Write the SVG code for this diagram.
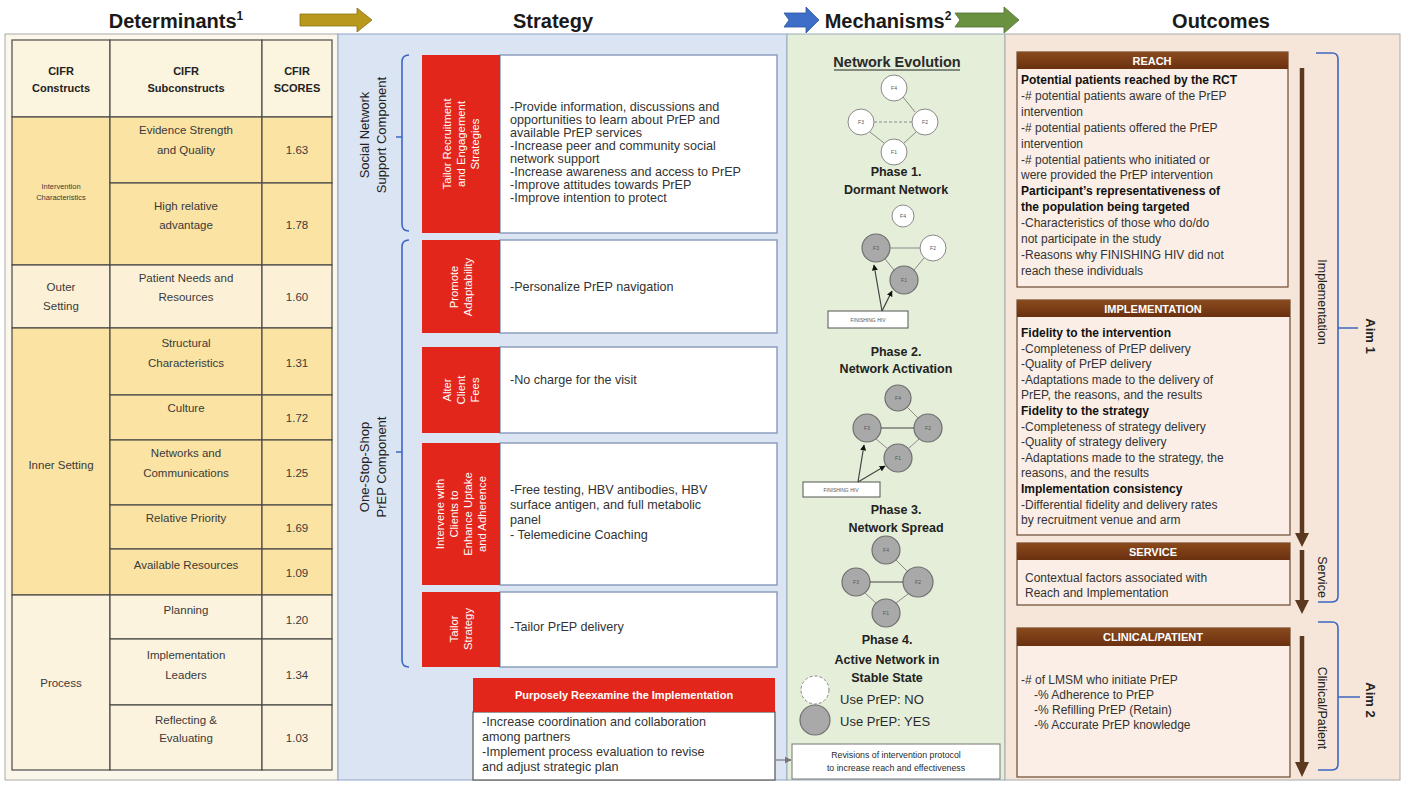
<svg xmlns="http://www.w3.org/2000/svg" width="1404" height="785" viewBox="0 0 1404 785">
<style>
text{font-family:"Liberation Sans",Arial,sans-serif;fill:#2a2a2a}
.hd{font-size:20px;font-weight:bold;text-anchor:middle;fill:#1a1a1a}
.th{font-size:11px;font-weight:bold;text-anchor:middle;fill:#222}
.c{font-size:11.5px;text-anchor:middle;fill:#3a3a3a}
.cs{font-size:7.5px;text-anchor:middle;fill:#3a3a3a}
.st{font-size:12.6px;fill:#333}
.rl{font-size:11.3px;fill:#fff;text-anchor:middle}
.vl{font-size:13px;text-anchor:middle;fill:#222}
.mb{font-size:12.5px;font-weight:bold;text-anchor:middle;fill:#222}
.nl{font-size:5px;text-anchor:middle;fill:#555}
.oc{font-size:12px;fill:#333}
.ob{font-size:12px;font-weight:bold;fill:#111}
.bh{font-size:11px;font-weight:bold;fill:#fff;text-anchor:middle}
.ov{font-size:12.5px;text-anchor:middle;fill:#222}
.aim{font-size:13px;font-weight:bold;text-anchor:middle;fill:#222}
.red{fill:#e3261c}
.tb{fill:#fff;stroke:#8d9ebf;stroke-width:1.5}
.cell{stroke:#4a4a4a;stroke-width:1.2}
.gold{fill:#fae3a3}
.lite{fill:#fcf1d6}
.nw{fill:#fff;stroke:#8a8a8a;stroke-width:1}
.ng{fill:#a9a9a9;stroke:#6f6f6f;stroke-width:1.2}
.ed{stroke:#8a8a8a;stroke-width:1;fill:none}
.edk{stroke:#444;stroke-width:1.2;fill:none}
.brace{fill:none;stroke:#3d67c4;stroke-width:1.6}
.brn{stroke:#5b3920;stroke-width:4.5}
.obox{fill:#faeee6;stroke:#6b4a30;stroke-width:1.2}
</style>
<defs>
<marker id="ah" viewBox="0 0 10 10" refX="9" refY="5" markerWidth="5" markerHeight="5" orient="auto"><path d="M0,0L10,5L0,10z" fill="#111"/></marker>
<marker id="ag" viewBox="0 0 10 10" refX="9" refY="5" markerWidth="6" markerHeight="6" orient="auto"><path d="M0,0L10,5L0,10z" fill="#777"/></marker>
<linearGradient id="bg1" x1="0" y1="0" x2="0" y2="1"><stop offset="0" stop-color="#8a4a1c"/><stop offset="1" stop-color="#6a3010"/></linearGradient>
</defs>
<rect width="1404" height="785" fill="#ffffff"/>

<g id="panels">
<rect x="5" y="34" width="333" height="746" fill="#fbf7ea" stroke="#a9a9a9"/>
<rect x="338" y="34" width="449" height="746" fill="#dbe4f2" stroke="#8fa3c8"/>
<rect x="787" y="34" width="218" height="746" fill="#e4eed9" stroke="#9aaab8"/>
<rect x="1005" y="34" width="395" height="746" fill="#f6e6da" stroke="#a8a8a8"/>
</g>

<g id="headers">
<text class="hd" x="176" y="28">Determinants<tspan font-size="12" dy="-8">1</tspan></text>
<text class="hd" x="553" y="28">Strategy</text>
<text class="hd" x="888" y="28">Mechanisms<tspan font-size="12" dy="-8">2</tspan></text>
<text class="hd" x="1221" y="28">Outcomes</text>
</g>

<g id="determinants">
<rect class="cell" x="12" y="40" width="98" height="77" fill="#fbf4de"/>
<rect class="cell" x="110" y="40" width="152" height="77" fill="#fbf4de"/>
<rect class="cell" x="262" y="40" width="70" height="77" fill="#fbf4de"/>
<text class="th" x="61" y="75">CIFR</text><text class="th" x="61" y="92">Constructs</text>
<text class="th" x="186" y="75">CIFR</text><text class="th" x="186" y="92">Subconstructs</text>
<text class="th" x="297" y="75">CFIR</text><text class="th" x="297" y="92">SCORES</text>

<rect class="cell gold" x="12" y="117" width="98" height="148"/>
<rect class="cell gold" x="110" y="117" width="152" height="66"/><rect class="cell gold" x="262" y="117" width="70" height="66"/>
<rect class="cell gold" x="110" y="183" width="152" height="82"/><rect class="cell gold" x="262" y="183" width="70" height="82"/>
<text class="cs" x="61" y="189">Intervention</text><text class="cs" x="61" y="200">Characteristics</text>
<text class="c" x="186" y="134">Evidence Strength</text><text class="c" x="186" y="154">and Quality</text><text class="c" x="297" y="154">1.63</text>
<text class="c" x="186" y="210">High relative</text><text class="c" x="186" y="229">advantage</text><text class="c" x="297" y="229">1.78</text>

<rect class="cell lite" x="12" y="265" width="98" height="63"/>
<rect class="cell lite" x="110" y="265" width="152" height="63"/><rect class="cell lite" x="262" y="265" width="70" height="63"/>
<text class="c" x="61" y="291">Outer</text><text class="c" x="61" y="310">Setting</text>
<text class="c" x="186" y="282">Patient Needs and</text><text class="c" x="186" y="301">Resources</text><text class="c" x="297" y="301">1.60</text>

<rect class="cell gold" x="12" y="328" width="98" height="267"/>
<rect class="cell gold" x="110" y="328" width="152" height="67"/><rect class="cell gold" x="262" y="328" width="70" height="67"/>
<rect class="cell gold" x="110" y="395" width="152" height="45"/><rect class="cell gold" x="262" y="395" width="70" height="45"/>
<rect class="cell gold" x="110" y="440" width="152" height="65"/><rect class="cell gold" x="262" y="440" width="70" height="65"/>
<rect class="cell gold" x="110" y="505" width="152" height="44"/><rect class="cell gold" x="262" y="505" width="70" height="44"/>
<rect class="cell gold" x="110" y="549" width="152" height="46"/><rect class="cell gold" x="262" y="549" width="70" height="46"/>
<text class="c" x="61" y="469">Inner Setting</text>
<text class="c" x="186" y="347">Structural</text><text class="c" x="186" y="367">Characteristics</text><text class="c" x="297" y="367">1.31</text>
<text class="c" x="186" y="412">Culture</text><text class="c" x="297" y="422">1.72</text>
<text class="c" x="186" y="457">Networks and</text><text class="c" x="186" y="477">Communications</text><text class="c" x="297" y="477">1.25</text>
<text class="c" x="186" y="522">Relative Priority</text><text class="c" x="297" y="532">1.69</text>
<text class="c" x="186" y="569">Available Resources</text><text class="c" x="297" y="577">1.09</text>

<rect class="cell" x="12" y="595" width="98" height="175" fill="#fcf3de"/>
<rect class="cell" x="110" y="595" width="152" height="44" fill="#fcf3de"/><rect class="cell" x="262" y="595" width="70" height="44" fill="#fcf3de"/>
<rect class="cell" x="110" y="639" width="152" height="66" fill="#fcf3de"/><rect class="cell" x="262" y="639" width="70" height="66" fill="#fcf3de"/>
<rect class="cell" x="110" y="705" width="152" height="65" fill="#fcf3de"/><rect class="cell" x="262" y="705" width="70" height="65" fill="#fcf3de"/>
<text class="c" x="61" y="687">Process</text>
<text class="c" x="186" y="614">Planning</text><text class="c" x="297" y="624">1.20</text>
<text class="c" x="186" y="659">Implementation</text><text class="c" x="186" y="679">Leaders</text><text class="c" x="297" y="679">1.34</text>
<text class="c" x="186" y="724">Reflecting &amp;</text><text class="c" x="186" y="742">Evaluating</text><text class="c" x="297" y="742">1.03</text>
</g>

<g id="strategy-labels">
<text class="vl" transform="translate(369,135) rotate(-90)"><tspan x="0" y="0">Social Network</tspan><tspan x="0" dy="17">Support Component</tspan></text>
<text class="vl" transform="translate(369,467) rotate(-90)"><tspan x="0" y="0">One-Stop-Shop</tspan><tspan x="0" dy="17">PrEP Component</tspan></text>
</g>

<g id="s1">
<rect class="tb" x="500" y="55" width="277" height="178"/>
<rect class="red" x="422" y="55" width="78" height="178"/>
<text class="rl" transform="translate(461,144) rotate(-90)"><tspan x="0" y="-10">Tailor Recruitment</tspan><tspan x="0" dy="14">and Engagement</tspan><tspan x="0" dy="14">Strategies</tspan></text>
<text class="st"><tspan x="510" y="111">-Provide information, discussions and</tspan><tspan x="510" dy="13">opportunities to learn about PrEP and</tspan><tspan x="510" dy="13">available PrEP services</tspan><tspan x="510" dy="13">-Increase peer and community social</tspan><tspan x="510" dy="13">network support</tspan><tspan x="510" dy="13">-Increase awareness and access to PrEP</tspan><tspan x="510" dy="13">-Improve attitudes towards PrEP</tspan><tspan x="510" dy="13">-Improve intention to protect</tspan></text>
</g>
<g id="s2">
<rect class="tb" x="500" y="240" width="277" height="93"/>
<rect class="red" x="422" y="240" width="78" height="93"/>
<text class="rl" transform="translate(461,287) rotate(-90)"><tspan x="0" y="-3">Promote</tspan><tspan x="0" dy="14">Adaptability</tspan></text>
<text class="st" x="510" y="291">-Personalize PrEP navigation</text>
</g>
<g id="s3">
<rect class="tb" x="500" y="347" width="277" height="86"/>
<rect class="red" x="422" y="347" width="78" height="86"/>
<text class="rl" transform="translate(461,390) rotate(-90)"><tspan x="0" y="-10">Alter</tspan><tspan x="0" dy="14">Client</tspan><tspan x="0" dy="14">Fees</tspan></text>
<text class="st" x="510" y="384">-No charge for the visit</text>
</g>
<g id="s4">
<rect class="tb" x="500" y="443" width="277" height="142"/>
<rect class="red" x="422" y="443" width="78" height="142"/>
<text class="rl" transform="translate(461,514) rotate(-90)"><tspan x="0" y="-17">Intervene with</tspan><tspan x="0" dy="14">Clients to</tspan><tspan x="0" dy="14">Enhance Uptake</tspan><tspan x="0" dy="14">and Adherence</tspan></text>
<text class="st"><tspan x="510" y="494">-Free testing, HBV antibodies, HBV</tspan><tspan x="510" dy="15">surface antigen, and full metabolic</tspan><tspan x="510" dy="15">panel</tspan><tspan x="510" dy="15">- Telemedicine Coaching</tspan></text>
</g>
<g id="s5">
<rect class="tb" x="500" y="592" width="277" height="75"/>
<rect class="red" x="422" y="592" width="78" height="75"/>
<text class="rl" transform="translate(461,629) rotate(-90)"><tspan x="0" y="-3">Tailor</tspan><tspan x="0" dy="14">Strategy</tspan></text>
<text class="st" x="510" y="631">-Tailor PrEP delivery</text>
</g>
<g id="s6">
<rect x="473" y="712" width="302" height="68" fill="#fff" stroke="#555" stroke-width="1.2"/>
<rect class="red" x="473" y="678" width="302" height="34"/>
<text class="bh" x="624" y="699" font-size="11.5">Purposely Reexamine the Implementation</text>
<text class="st"><tspan x="482" y="726">-Increase coordination and collaboration</tspan><tspan x="482" dy="15">among partners</tspan><tspan x="482" dy="15">-Implement process evaluation to revise</tspan><tspan x="482" dy="15">and adjust strategic plan</tspan></text>
</g>

<g id="mech-title">
<text x="897" y="67" font-size="14.5" font-weight="bold" text-anchor="middle" fill="#222">Network Evolution</text>
<line x1="834" y1="70" x2="960" y2="70" stroke="#222" stroke-width="1.2"/>
</g>
<g id="phase1">
<circle class="nw" cx="894" cy="88" r="13"/><circle class="nw" cx="861" cy="122" r="13"/><circle class="nw" cx="925" cy="122" r="13"/><circle class="nw" cx="894" cy="152" r="13"/>
<text class="nl" x="894" y="90">F4</text><text class="nl" x="861" y="124">F3</text><text class="nl" x="925" y="124">F2</text><text class="nl" x="894" y="154">F1</text>
<text class="mb" x="896" y="176">Phase 1.</text><text class="mb" x="896" y="194">Dormant Network</text>
</g>
<g id="phase2">
<circle class="nw" cx="903" cy="216" r="11"/><circle class="ng" cx="876" cy="248" r="14"/><circle class="nw" cx="933" cy="248" r="13"/><circle class="ng" cx="904" cy="280" r="14" stroke="#444" stroke-width="1.6"/>
<text class="nl" x="903" y="218">F4</text><text class="nl" x="876" y="250">F3</text><text class="nl" x="933" y="250">F2</text><text class="nl" x="904" y="282">F1</text>
<rect x="828" y="311" width="80" height="17" fill="#fff" stroke="#555"/>
<text class="nl" x="868" y="321.5">FINISHING HIV</text>
<text class="mb" x="896" y="356">Phase 2.</text><text class="mb" x="896" y="373">Network Activation</text>
</g>
<g id="phase3">
<circle class="ng" cx="898" cy="398" r="13"/><circle class="ng" cx="867" cy="428" r="14"/><circle class="ng" cx="928" cy="428" r="14"/><circle class="ng" cx="898" cy="458" r="14"/>
<text class="nl" x="898" y="400">F4</text><text class="nl" x="867" y="430">F3</text><text class="nl" x="928" y="430">F2</text><text class="nl" x="898" y="460">F1</text>
<rect x="803" y="482" width="77" height="15" fill="#fff" stroke="#555"/>
<text class="nl" x="841" y="491.5">FINISHING HIV</text>
<text class="mb" x="896" y="514">Phase 3.</text><text class="mb" x="896" y="532">Network Spread</text>
</g>
<g id="phase4">
<circle class="ng" cx="886" cy="550" r="14"/><circle class="ng" cx="856" cy="582" r="14"/><circle class="ng" cx="918" cy="582" r="15"/><circle class="ng" cx="886" cy="613" r="14"/>
<text class="nl" x="886" y="552">F4</text><text class="nl" x="856" y="584">F3</text><text class="nl" x="918" y="584">F2</text><text class="nl" x="886" y="615">F1</text>
<text class="mb" x="887" y="644">Phase 4.</text><text class="mb" x="887" y="664">Active Network in</text><text class="mb" x="887" y="682">Stable State</text>
</g>
<g id="legend">
<circle cx="815" cy="690" r="14" fill="#fff" stroke="#888" stroke-dasharray="3,2"/>
<text x="840" y="704" font-size="13" fill="#333">Use PrEP: NO</text>
<circle class="ng" cx="815" cy="720" r="15"/>
<text x="840" y="726" font-size="13" fill="#333">Use PrEP: YES</text>
</g>
<g id="revisions">
<rect x="792" y="744" width="208" height="35" fill="#fff" stroke="#777"/>
<text x="896" y="758" font-size="8.8" text-anchor="middle" fill="#444">Revisions of intervention protocol</text>
<text x="896" y="771" font-size="8.8" text-anchor="middle" fill="#444">to increase reach and effectiveness</text>
</g>

<g id="reach">
<rect class="obox" x="1017" y="52" width="271" height="235"/>
<rect x="1017" y="52" width="271" height="17" fill="url(#bg1)"/>
<text class="bh" x="1152" y="64.5">REACH</text>
<text class="oc"><tspan class="ob" x="1021" y="84">Potential patients reached by the RCT</tspan><tspan x="1021" dy="15.9">-# potential patients aware of the PrEP</tspan><tspan x="1021" dy="15.9">intervention</tspan><tspan x="1021" dy="15.9">-# potential patients offered the PrEP</tspan><tspan x="1021" dy="15.9">intervention</tspan><tspan x="1021" dy="15.9">-# potential patients who initiated or</tspan><tspan x="1021" dy="15.9">were provided the PrEP intervention</tspan><tspan class="ob" x="1021" dy="15.9">Participant’s representativeness of</tspan><tspan class="ob" x="1021" dy="15.9">the population being targeted</tspan><tspan x="1021" dy="15.9">-Characteristics of those who do/do</tspan><tspan x="1021" dy="15.9">not participate in the study</tspan><tspan x="1021" dy="15.9">-Reasons why FINISHING HIV did not</tspan><tspan x="1021" dy="15.9">reach these individuals</tspan></text>
</g>
<g id="implementation">
<rect class="obox" x="1017" y="300" width="273" height="235"/>
<rect x="1017" y="300" width="273" height="17" fill="url(#bg1)"/>
<text class="bh" x="1153" y="312.5">IMPLEMENTATION</text>
<text class="oc"><tspan class="ob" x="1021" y="337">Fidelity to the intervention</tspan><tspan x="1021" dy="15.6">-Completeness of PrEP delivery</tspan><tspan x="1021" dy="15.6">-Quality of PrEP delivery</tspan><tspan x="1021" dy="15.6">-Adaptations made to the delivery of</tspan><tspan x="1021" dy="15.6">PrEP, the reasons, and the results</tspan><tspan class="ob" x="1021" dy="15.6">Fidelity to the strategy</tspan><tspan x="1021" dy="15.6">-Completeness of strategy delivery</tspan><tspan x="1021" dy="15.6">-Quality of strategy delivery</tspan><tspan x="1021" dy="15.6">-Adaptations made to the strategy, the</tspan><tspan x="1021" dy="15.6">reasons, and the results</tspan><tspan class="ob" x="1021" dy="15.6">Implementation consistency</tspan><tspan x="1021" dy="15.6">-Differential fidelity and delivery rates</tspan><tspan x="1021" dy="15.6">by recruitment venue and arm</tspan></text>
</g>
<g id="service">
<rect class="obox" x="1017" y="543" width="273" height="62"/>
<rect x="1017" y="543" width="273" height="17" fill="url(#bg1)"/>
<text class="bh" x="1153" y="555.5">SERVICE</text>
<text class="oc"><tspan x="1025" y="582">Contextual factors associated with</tspan><tspan x="1025" y="597">Reach and Implementation</tspan></text>
</g>
<g id="clinical">
<rect class="obox" x="1017" y="628" width="273" height="149"/>
<rect x="1017" y="628" width="273" height="18" fill="url(#bg1)"/>
<text class="bh" x="1153" y="641">CLINICAL/PATIENT</text>
<text class="oc"><tspan x="1021" y="684">-# of LMSM who initiate PrEP</tspan><tspan x="1034" y="699">-% Adherence to PrEP</tspan><tspan x="1034" y="714">-% Refilling PrEP (Retain)</tspan><tspan x="1034" y="729">-% Accurate PrEP knowledge</tspan></text>
</g>
<g id="outcome-labels">
<text class="ov" transform="translate(1318,302) rotate(90)">Implementation</text>
<text class="ov" transform="translate(1318,577) rotate(90)">Service</text>
<text class="ov" transform="translate(1318,708) rotate(90)">Clinical/Patient</text>
<text class="aim" transform="translate(1366,336) rotate(90)">Aim 1</text>
<text class="aim" transform="translate(1366,700) rotate(90)">Aim 2</text>
</g>

<g id="connectors">
<polygon points="300,14 357,14 357,8 372,20 357,32 357,26 300,26" fill="#b8991c" stroke="#8a7212" stroke-width="0.8"/>
<polygon points="784,13 806,13 806,7 819,20 806,33 806,27 784,27 789,20" fill="#3d6fc9" stroke="#2c55a0" stroke-width="0.8"/>
<polygon points="955,13 1004,13 1004,7 1019,20 1004,33 1004,27 955,27 960,20" fill="#6a9140" stroke="#4e6e2e" stroke-width="0.8"/>

<path class="brace" d="M409,55 Q402,55 402,62 L402,224 Q402,231 409,231 M402,137 L396,137"/>
<path class="brace" d="M409,240 Q402,240 402,247 L402,660 Q402,667 409,667 M402,452 L396,452"/>

<line class="ed" x1="903" y1="97" x2="915" y2="112"/>
<line class="ed" x1="874" y1="122" x2="912" y2="122" stroke-dasharray="3,2"/>
<line class="ed" x1="870" y1="132" x2="884" y2="143"/>
<line class="ed" x1="904" y1="143" x2="916" y2="132"/>
<line class="ed" x1="890" y1="248" x2="920" y2="248"/>
<line class="ed" x1="885" y1="259" x2="894" y2="270"/>
<line class="ed" x1="914" y1="270" x2="924" y2="258"/>
<path class="edk" d="M882,311 L874,265" marker-end="url(#ah)"/>
<path class="edk" d="M882,311 L892,291" marker-end="url(#ah)"/>
<line class="ed" x1="907" y1="407" x2="918" y2="418"/>
<line class="edk" x1="881" y1="428" x2="914" y2="428"/>
<line class="ed" x1="876" y1="439" x2="888" y2="449"/>
<line class="ed" x1="908" y1="449" x2="919" y2="439"/>
<path class="edk" d="M858,482 L864,445" marker-end="url(#ah)"/>
<path class="edk" d="M858,482 L885,466" marker-end="url(#ah)"/>
<line class="ed" x1="896" y1="560" x2="907" y2="571"/>
<line class="edk" x1="870" y1="582" x2="903" y2="582"/>
<line class="ed" x1="865" y1="593" x2="876" y2="603"/>
<line class="ed" x1="896" y1="603" x2="908" y2="594"/>

<line x1="776" y1="760" x2="791" y2="760" stroke="#777" stroke-width="1.2" marker-end="url(#ag)"/>

<line class="brn" x1="1302" y1="68" x2="1302" y2="534"/>
<polygon points="1295,533 1309,533 1302,547" fill="#5b3920"/>
<line class="brn" x1="1302" y1="550" x2="1302" y2="601"/>
<polygon points="1295,600 1309,600 1302,614" fill="#5b3920"/>
<line class="brn" x1="1302" y1="636" x2="1302" y2="763"/>
<polygon points="1295,762 1309,762 1302,777" fill="#5b3920"/>

<path class="brace" d="M1316,53 L1332,53 Q1338,53 1338,59 L1338,596 Q1338,602 1332,602 L1318,602 M1338,328 L1358,328"/>
<path class="brace" d="M1318,622 L1332,622 Q1338,622 1338,628 L1338,764 Q1338,770 1332,770 L1318,770 M1338,697 L1360,697"/>
</g>
</svg>
